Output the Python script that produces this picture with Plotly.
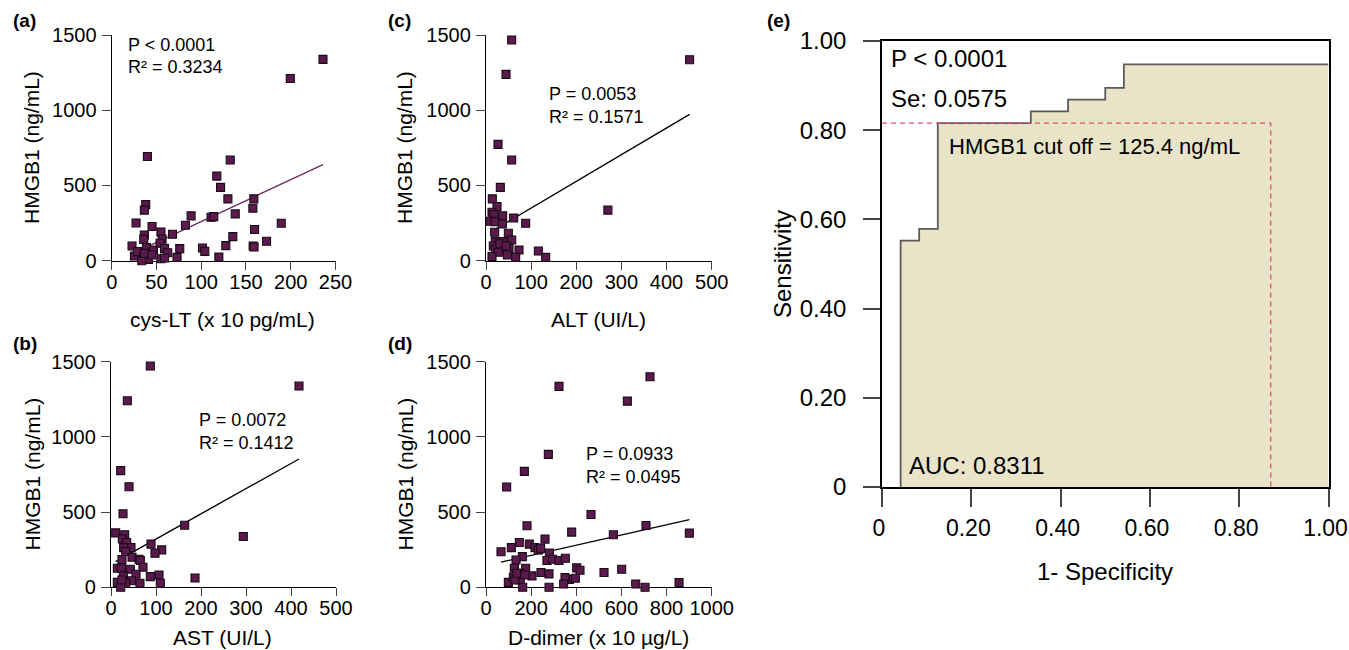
import plotly.graph_objects as go

W, H = 1349, 650

# ---------------- DATA ----------------
# (a) cys-LT vs HMGB1
a_x = [236, 199.5, 39.9, 132.4, 117.4, 121.6, 129.8, 158.8, 157.7, 38, 36.5, 27.2, 45.1, 88.7, 82.4,
       111, 114, 138, 189.4, 36.5, 55, 67.9, 159.6, 135.3, 56.3, 22.7, 35.8, 38.8, 46.6, 54, 59, 62.6,
       76, 101.4, 104, 127.5, 158, 159, 173, 119.7, 73, 25.4, 28.7, 35.4, 41, 33.6, 55, 59, 36.5, 45]
a_y = [1338, 1211, 693, 669, 562, 487, 411, 411, 349, 373, 336, 251, 227, 298, 236,
       289, 293, 311, 249, 171, 191, 176, 207, 160, 144, 98, 142, 87, 71, 116, 82, 53,
       80, 84, 62, 100, 98, 91, 129, 24, 22, 31, 60, 22, 9, 0, 13, 18, 49, 38]
a_fit_x = [22.7, 236]
a_fit_y = [45.6, 638.6]

# (b) AST vs HMGB1
b_x = [87.4, 417.8, 36.3, 21.5, 40, 26.7, 163.7, 294, 10.4, 30.4, 25.2, 34.8, 88.9, 44.4, 28.1,
       112.6, 97.8, 32.6, 46.7, 62.2, 65.2, 71.1, 24.4, 14.1, 23, 43, 55.6, 27.4, 87.4, 106.7,
       186.7, 109.6, 14.1, 45.2, 64.4, 32.6, 21.5, 24.4]
b_y = [1471, 1338, 1240, 776, 669, 489, 413, 338, 362, 349, 322, 298, 287, 264, 264,
       249, 227, 238, 200, 187, 178, 133, 184, 127, 127, 120, 87, 76, 71, 82,
       62, 27, 33, 44, 27, 27, 0, 49]
b_fit_x = [10.4, 417.8]
b_fit_y = [171.4, 853.0]

# (c) ALT vs HMGB1
c_x = [56.9, 451, 44.3, 26.6, 56.9, 31.8, 270, 14, 24.4, 13.3, 17.7, 36.9, 61.3, 87.9, 8.9,
       19.9, 36.2, 19.2, 49.5, 56.9, 36.9, 20.7, 16.2, 20.7, 36.9, 51, 73.1, 116, 132.2, 65.7,
       47.3, 27.3, 13.3, 31, 44.3]
c_y = [1467, 1336, 1238, 773, 669, 487, 336, 411, 360, 322, 307, 298, 284, 249, 262,
       260, 244, 189, 182, 138, 127, 127, 98, 76, 76, 82, 71, 64, 22, 22,
       38, 56, 27, 113, 98]
c_fit_x = [8.9, 451]
c_fit_y = [188.3, 973.0]

# (d) D-dimer vs HMGB1
d_x = [726.7, 323.5, 626.3, 276.2, 169.9, 91.6, 465.3, 181.7, 709, 379.6, 901, 564.3, 261.4, 147.7,
       192, 112.3, 66.5, 217, 231.9, 242, 161, 281, 133, 270, 295, 323.5, 351.6, 125.6, 176,
       203.8, 243.7, 279, 401.8, 416.5, 522.9, 601.2, 369.3, 350, 395.9, 344.2, 663.2, 704.6,
       855.3, 279.2, 99, 121, 150.7, 152, 162.5, 128.5, 136, 172.8]
d_y = [1400, 1336, 1238, 884, 771, 667, 484, 409, 411, 367, 360, 349, 320, 298,
       287, 264, 236, 264, 249, 260, 204, 227, 182, 178, 187, 178, 193, 127, 127,
       76, 98, 89, 129, 113, 98, 120, 53, 64, 60, 22, 22, 0,
       31, 0, 33, 67, 93, 49, 0, 49, 93, 82]
d_fit_x = [66.5, 901]
d_fit_y = [167.0, 450.0]

# (e) ROC curve
roc_fpr = [0.0417, 0.0417, 0.0833, 0.125, 0.3333, 0.4167, 0.5, 0.5417, 1.0]
roc_sens = [0, 0.5526, 0.5789, 0.8158, 0.8421, 0.8684, 0.8947, 0.9474, 0.9474]
cut_x = [0, 0.8706, 0.8706]
cut_y = [0.8158, 0.8158, 0]

small_ticks_a = [0, 50, 100, 150, 200, 250]
small_ticks_bc = [0, 100, 200, 300, 400, 500]
small_ticks_d = [0, 200, 400, 600, 800, 1000]
hmgb1_ticks = [0, 500, 1000, 1500]
roc_ticks = [0, 0.2, 0.4, 0.6, 0.8, 1.0]
roc_ticktext = ["0", "0.20", "0.40", "0.60", "0.80", "1.00"]

# ---------------- STYLE ----------------
FONT = "Arial, Liberation Sans, Helvetica, sans-serif"
MARK = "#5b1a4e"
FIT_A = "#6d2b61"


def px(x):
    return x / W


def py(y):
    return 1 - y / H


fig = go.Figure()

panels = [
    ("x", "y", a_x, a_y, a_fit_x, a_fit_y, FIT_A),
    ("x2", "y2", b_x, b_y, b_fit_x, b_fit_y, "black"),
    ("x3", "y3", c_x, c_y, c_fit_x, c_fit_y, "black"),
    ("x4", "y4", d_x, d_y, d_fit_x, d_fit_y, "black"),
]
for xa, ya, xs, ys, fx, fy, fc in panels:
    fig.add_trace(go.Scatter(x=fx, y=fy, mode="lines", xaxis=xa, yaxis=ya,
                             line=dict(color=fc, width=1.4), showlegend=False,
                             cliponaxis=False, hoverinfo="skip"))
    fig.add_trace(go.Scatter(x=xs, y=ys, mode="markers", xaxis=xa, yaxis=ya,
                             marker=dict(symbol="square", size=8, color=MARK,
                                         line=dict(color="#1a0a16", width=1.1)),
                             showlegend=False, cliponaxis=False))

# ROC
fig.add_trace(go.Scatter(x=roc_fpr, y=roc_sens, mode="lines", xaxis="x5", yaxis="y5",
                         line=dict(color="#5a5a5a", width=1.8, shape="hv"),
                         fill="tozeroy", fillcolor="#e9e3c7", showlegend=False))
fig.add_trace(go.Scatter(x=cut_x, y=cut_y, mode="lines", xaxis="x5", yaxis="y5",
                         line=dict(color="#e2506f", width=1.3, dash="5px,4px"),
                         showlegend=False))

# domains in pixels
dom = {
    1: ((111.7, 335.5), (260.7, 35)),
    2: ((111.0, 336.0), (587.3, 361.7)),
    3: ((486.0, 711.7), (260.7, 35)),
    4: ((486.0, 711.7), (587.3, 361.7)),
    5: ((882.0, 1328.5), (487.0, 41.0)),
}
xr = {1: [0, 250], 2: [0, 500], 3: [0, 500], 4: [0, 1000], 5: [0, 1]}
xt = {1: small_ticks_a, 2: small_ticks_bc, 3: small_ticks_bc, 4: small_ticks_d}

layout = dict(width=W, height=H, margin=dict(l=0, r=0, t=0, b=0, autoexpand=False),
              paper_bgcolor="white", plot_bgcolor="rgba(0,0,0,0)",
              font=dict(family=FONT, color="black"), showlegend=False)

for i in range(1, 6):
    (x0, x1), (y0, y1) = dom[i]
    kx = "xaxis" if i == 1 else f"xaxis{i}"
    ky = "yaxis" if i == 1 else f"yaxis{i}"
    anc_x = "y" if i == 1 else f"y{i}"
    anc_y = "x" if i == 1 else f"x{i}"
    if i < 5:
        layout[kx] = dict(domain=[px(x0), px(x1)], anchor=anc_x, range=xr[i],
                          tickvals=xt[i], ticks="outside", ticklen=8, tickwidth=1.3,
                          showline=True, linecolor="black", linewidth=1.3, automargin=False,
                          showgrid=False, zeroline=False, layer="below traces",
                          ticklabeloverflow="allow",
                          tickfont=dict(size=20, family=FONT), ticklabelstandoff=-5)
        layout[ky] = dict(domain=[py(y0), py(y1)], anchor=anc_y, range=[0, 1500],
                          tickvals=hmgb1_ticks, ticks="outside", ticklen=9, tickwidth=1.3,
                          showline=True, linecolor="black", linewidth=1.3, automargin=False,
                          showgrid=False, zeroline=False, layer="below traces",
                          ticklabeloverflow="allow",
                          tickfont=dict(size=20, family=FONT), ticklabelstandoff=1)
    else:
        layout[kx] = dict(domain=[px(x0), px(x1)], anchor=anc_x, range=[0, 1],
                          tickvals=roc_ticks, ticktext=roc_ticktext, ticks="outside",
                          ticklen=18, tickwidth=1.5, showline=True, mirror=True,
                          linecolor="black", linewidth=1.5, showgrid=False, zeroline=False,
                          automargin=False, ticklabeloverflow="allow", ticklabelshift=-3,
                          tickfont=dict(size=23, family=FONT), ticklabelstandoff=2)
        layout[ky] = dict(domain=[py(y0), py(y1)], anchor=anc_y, range=[0, 1],
                          tickvals=roc_ticks, ticktext=roc_ticktext, ticks="outside",
                          ticklen=17, tickwidth=1.5, showline=True, mirror=True,
                          linecolor="black", linewidth=1.5, showgrid=False, zeroline=False,
                          automargin=False, ticklabeloverflow="allow",
                          tickfont=dict(size=24, family=FONT), ticklabelstandoff=12)

ann = []


def text(x, y, s, size, anchor="left", angle=0, bold=False):
    if bold:
        s = f"<b>{s}</b>"
    ann.append(dict(x=px(x), y=py(y), xref="paper", yref="paper", text=s, showarrow=False,
                    xanchor=anchor, yanchor="middle", textangle=angle,
                    font=dict(size=size, family=FONT, color="black")))


# panel labels
text(11, 21, "(a)", 19, bold=True)
text(11, 343, "(b)", 19, bold=True)
text(386, 21, "(c)", 19, bold=True)
text(386, 343, "(d)", 19, bold=True)
text(765, 20, "(e)", 19, bold=True)

# axis titles
text(222, 319, "cys-LT (x 10 pg/mL)", 21, anchor="center")
text(222, 637, "AST (UI/L)", 21, anchor="center")
text(598, 319, "ALT (UI/L)", 21, anchor="center")
text(598, 637, "D-dimer (x 10 µg/L)", 21, anchor="center")
for xc, yc in [(32, 148), (32, 474.5), (405, 148), (405, 474.5)]:
    text(xc, yc, "HMGB1 (ng/mL)", 21, anchor="center", angle=-90)
text(1105, 571, "1- Specificity", 24, anchor="center")
text(783, 264, "Sensitivity", 24, anchor="center", angle=-90)

# statistics
text(126, 45, "P < 0.0001", 18)
text(126, 67, "R² = 0.3234", 18)
text(197, 420, "P = 0.0072", 18)
text(197, 443, "R² = 0.1412", 18)
text(547, 94, "P = 0.0053", 18)
text(547, 117, "R² = 0.1571", 18)
text(584, 454, "P = 0.0933", 18)
text(584, 477, "R² = 0.0495", 18)

text(889, 59, "P < 0.0001", 24)
text(889, 98, "Se: 0.0575", 24)
text(947, 146, "HMGB1 cut off = 125.4 ng/mL", 22)
text(907, 465, "AUC: 0.8311", 24)

layout["annotations"] = ann
fig.update_layout(**layout)

fig.write_html("out.html", config={"displayModeBar": False},
               post_script="document.body.style.margin='0';")
